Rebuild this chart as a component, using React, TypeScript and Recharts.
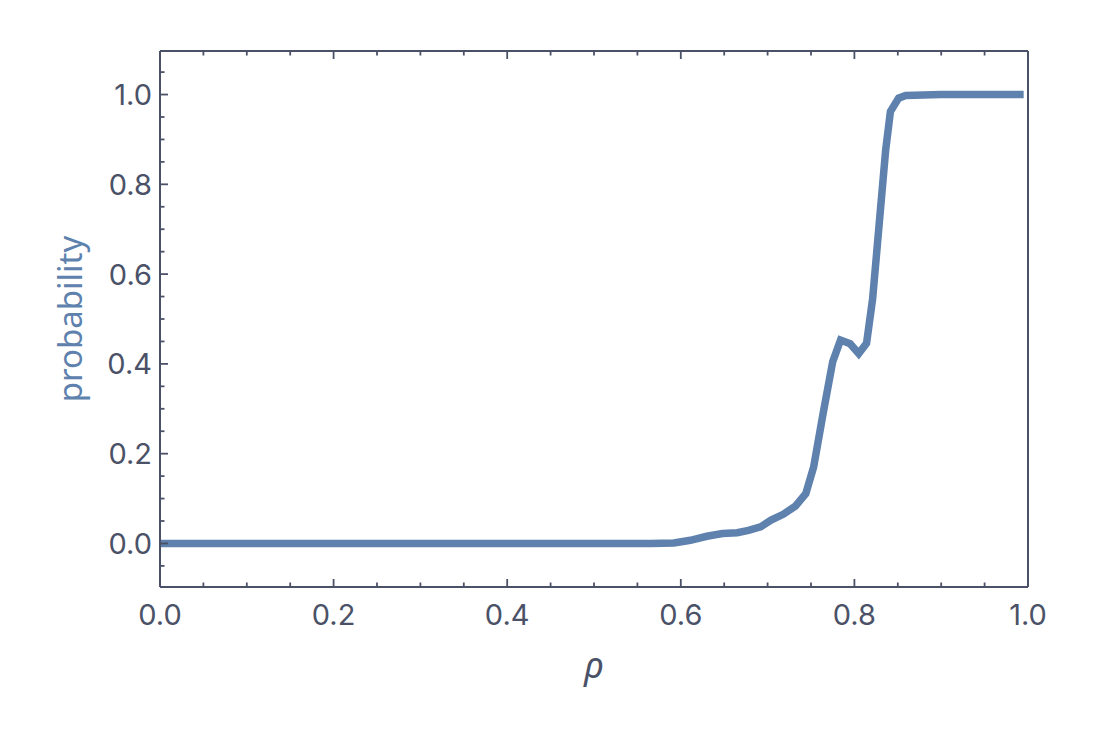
import React from 'react';
import { LineChart, Line, XAxis, YAxis } from 'recharts';

// rho values and the measured probability at each
const RHO = [
  0, 0.1, 0.2, 0.3, 0.4, 0.5, 0.565, 0.592, 0.611, 0.63, 0.648, 0.665, 0.678, 0.692,
  0.704, 0.718, 0.732, 0.744, 0.753, 0.764, 0.775, 0.784, 0.795, 0.805, 0.814, 0.821,
  0.836, 0.8415, 0.851, 0.859, 0.9, 0.95, 0.995,
];
const PROB = [
  0, 0, 0, 0, 0, 0, 0, 0.001, 0.007, 0.016, 0.022, 0.024, 0.029, 0.037,
  0.052, 0.065, 0.083, 0.111, 0.17, 0.29, 0.405, 0.453, 0.445, 0.423, 0.446, 0.545,
  0.876, 0.962, 0.992, 0.998, 1, 1, 1,
];

const X_TICKS = [0, 0.05, 0.1, 0.15, 0.2, 0.25, 0.3, 0.35, 0.4, 0.45, 0.5, 0.55, 0.6, 0.65, 0.7, 0.75, 0.8, 0.85, 0.9, 0.95, 1.0];
const Y_TICKS = [-0.05, 0, 0.05, 0.1, 0.15, 0.2, 0.25, 0.3, 0.35, 0.4, 0.45, 0.5, 0.55, 0.6, 0.65, 0.7, 0.75, 0.8, 0.85, 0.9, 0.95, 1.0, 1.05];
const MAJOR = [0, 0.2, 0.4, 0.6, 0.8, 1.0];

const FRAME = '#4b5268';
const BLUE = '#5e81ad';
const FONT = '"Noto Sans", sans-serif';
const TICK_FONT = 'Inter, "Noto Sans", sans-serif';

const data = RHO.map((rho, i) => ({ rho, p: PROB[i] }));

const isMajor = (v: number) => MAJOR.some(m => Math.abs(m - v) < 1e-6);

// ticks point into the frame on every side; only bottom/left carry labels
const FrameTick = ({ x, y, payload, side }: any) => {
  const v = payload.value;
  const len = isMajor(v) ? 8 : 4.5;
  const label = v.toFixed(1);
  const textStyle = { fontFamily: TICK_FONT, fontSize: 29, fill: FRAME };
  if (side === 'bottom') {
    return (
      <g>
        <line x1={x} x2={x} y1={y} y2={y - len} stroke={FRAME} strokeWidth={1.8} />
        {isMajor(v) && <text x={x} y={y + 37.5} textAnchor="middle" style={textStyle}>{label}</text>}
      </g>
    );
  }
  if (side === 'top') {
    return <line x1={x} x2={x} y1={y} y2={y + len} stroke={FRAME} strokeWidth={1.8} />;
  }
  if (side === 'left') {
    return (
      <g>
        <line x1={x} x2={x + len} y1={y} y2={y} stroke={FRAME} strokeWidth={1.8} />
        {isMajor(v) && <text x={x - 8} y={y + 10.5} textAnchor="end" style={textStyle}>{label}</text>}
      </g>
    );
  }
  return <line x1={x} x2={x - len} y1={y} y2={y} stroke={FRAME} strokeWidth={1.8} />;
};

const RhoLabel = ({ viewBox }: any) => (
  <text x={viewBox.x + viewBox.width / 2} y={viewBox.y + 91} textAnchor="middle"
    style={{ fontFamily: FONT, fontSize: 36, fontStyle: 'italic', fill: FRAME }}>ρ</text>
);

const ProbLabel = ({ viewBox }: any) => {
  const cx = viewBox.x + viewBox.width - 78;
  const cy = viewBox.y + viewBox.height / 2;
  return (
    <text x={cx} y={cy} textAnchor="middle" transform={`rotate(-90, ${cx}, ${cy})`}
      style={{ fontFamily: FONT, fontSize: 33, fill: BLUE }}>probability</text>
  );
};

export default function App() {
  const axisLine = { stroke: FRAME, strokeWidth: 2 };
  return (
    <div style={{ position: 'absolute', left: 0, top: 0, width: 1100, height: 740, background: '#fff' }}>
      <LineChart width={1100} height={740} data={data}
        margin={{ top: 50, right: 71, bottom: 152, left: 159 }}>
        <XAxis dataKey="rho" type="number" domain={[0, 1]} ticks={X_TICKS} interval={0}
          height={1} tickSize={0} tickMargin={0} tickLine={false} axisLine={axisLine}
          tick={<FrameTick side="bottom" />} label={<RhoLabel />} />
        <XAxis xAxisId="top" orientation="top" dataKey="rho" type="number" domain={[0, 1]}
          ticks={X_TICKS} interval={0} height={1} tickSize={0} tickMargin={0} tickLine={false}
          axisLine={axisLine} tick={<FrameTick side="top" />} />
        <YAxis type="number" domain={[-0.097, 1.097]} ticks={Y_TICKS} interval={0}
          width={1} tickSize={0} tickMargin={0} tickLine={false} axisLine={axisLine}
          tick={<FrameTick side="left" />} label={<ProbLabel />} />
        <YAxis yAxisId="right" orientation="right" type="number" domain={[-0.097, 1.097]}
          ticks={Y_TICKS} interval={0} width={1} tickSize={0} tickMargin={0} tickLine={false}
          axisLine={axisLine} tick={<FrameTick side="right" />} />
        <Line dataKey="p" type="linear" stroke={BLUE} strokeWidth={7.5} dot={false}
          activeDot={false} isAnimationActive={false} />
      </LineChart>
    </div>
  );
}
